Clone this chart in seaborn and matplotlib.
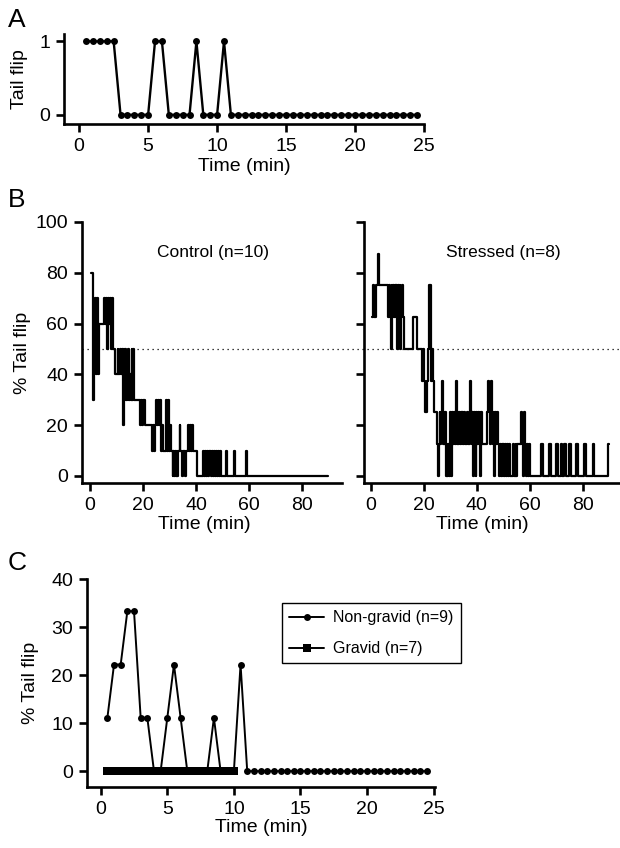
import matplotlib
matplotlib.use("Agg")
import matplotlib.pyplot as plt
import seaborn as sns
from matplotlib.lines import Line2D

# ---------------- Data ----------------
# Panel A: single animal, tail flip (0/1) per 0.5-min bin
a_time = [0.5, 1.0, 1.5, 2.0, 2.5, 3.0, 3.5, 4.0, 4.5, 5.0, 5.5, 6.0, 6.5, 7.0, 7.5,
          8.0, 8.5, 9.0, 9.5, 10.0, 10.5, 11.0, 11.5, 12.0, 12.5, 13.0, 13.5, 14.0,
          14.5, 15.0, 15.5, 16.0, 16.5, 17.0, 17.5, 18.0, 18.5, 19.0, 19.5, 20.0,
          20.5, 21.0, 21.5, 22.0, 22.5, 23.0, 23.5, 24.0, 24.5]
a_flip = [1, 1, 1, 1, 1, 0, 0, 0, 0, 0, 1, 1, 0, 0, 0, 0, 1, 0, 0, 0, 1,
          0, 0, 0, 0, 0, 0, 0, 0, 0, 0, 0, 0, 0, 0, 0, 0, 0, 0, 0, 0, 0, 0, 0,
          0, 0, 0, 0, 0]

# Panel B: % tail flip step traces (change points: time in min, value in %)
ctrl_t = [0.5, 1.0, 1.5, 2.0, 2.4, 2.8, 3.2, 3.6, 5.3, 5.7, 6.0, 6.4, 6.8, 7.2, 7.6,
          8.0, 8.4, 8.8, 9.3, 10.4, 10.7, 11.3, 11.7, 12.1, 12.4, 12.7, 13.0, 13.3,
          13.6, 13.9, 14.2, 14.5, 14.8, 15.1, 15.4, 15.7, 16.0, 16.3, 16.6, 19.0,
          19.4, 19.8, 20.2, 20.6, 23.3, 23.7, 24.1, 24.5, 24.9, 25.3, 25.7, 26.1,
          26.5, 26.9, 27.3, 27.7, 28.6, 29.0, 29.4, 29.8, 30.2, 30.6, 31.2, 31.5,
          31.8, 32.1, 32.4, 32.7, 33.0, 33.3, 33.8, 34.1, 34.6, 35.0, 35.8, 36.2,
          37.0, 37.4, 37.8, 38.2, 38.6, 39.0, 40.3, 42.8, 43.1, 43.5, 43.9, 44.3,
          44.7, 45.1, 45.5, 45.9, 46.3, 46.7, 47.1, 47.5, 47.9, 48.3, 48.7, 49.1,
          49.5, 51.4, 51.8, 54.5, 54.9, 58.9, 59.3, 90.0]
ctrl_v = [80, 30, 60, 70, 40, 70, 40, 60, 70, 60, 70, 50, 70, 60, 70,
          50, 70, 50, 40, 50, 40, 50, 40, 50, 20, 50, 30, 50,
          30, 40, 30, 50, 30, 40, 30, 50, 30, 50, 30, 20,
          30, 20, 30, 20, 10, 20, 10, 20, 30, 20, 30, 20,
          30, 10, 20, 10, 30, 10, 30, 10, 20, 10, 0, 10,
          0, 10, 0, 10, 0, 10, 20, 10, 0, 10, 0, 10,
          20, 10, 20, 10, 20, 10, 0, 10, 0, 10, 0, 10,
          0, 10, 0, 10, 0, 10, 0, 10, 0, 10, 0, 10,
          0, 10, 0, 10, 0, 10, 0, 0]

str_t = [0.3, 0.8, 1.3, 1.8, 2.8, 3.2, 6.5, 6.9, 7.2, 7.5, 7.8, 8.1, 8.4, 8.7, 9.0,
         9.3, 9.6, 9.9, 10.2, 10.5, 10.8, 11.1, 11.4, 11.7, 12.1, 12.5, 16.0, 17.3,
         19.1, 19.6, 20.1, 20.6, 21.0, 21.6, 22.1, 22.5, 23.0, 23.5, 24.0, 24.8,
         25.3, 25.6, 25.9, 26.2, 26.5, 26.8, 27.1, 27.4, 27.7, 28.0, 28.3, 28.6,
         28.9, 29.2, 29.5, 29.8, 30.1, 30.4, 30.7, 31.0, 31.3, 31.6, 32.0, 32.4,
         32.7, 33.0, 33.3, 33.6, 33.9, 34.2, 34.5, 34.8, 35.2, 35.6, 36.4, 36.8,
         37.3, 37.7, 38.0, 38.3, 38.6, 38.9, 39.2, 39.5, 39.8, 40.1, 40.4, 40.7,
         41.0, 41.3, 41.6, 42.0, 43.8, 44.3, 44.6, 44.9, 45.3, 45.7, 46.0, 46.3,
         46.6, 46.9, 47.2, 47.6, 48.0, 48.5, 48.8, 49.1, 49.4, 49.7, 50.0, 50.3,
         50.7, 51.0, 51.4, 51.7, 52.2, 52.5, 53.8, 54.1, 54.6, 54.9, 55.2, 56.6,
         57.0, 57.5, 57.8, 58.2, 58.5, 58.8, 59.2, 59.6, 60.0, 64.2, 64.8, 67.3,
         67.9, 69.9, 70.5, 71.7, 72.3, 73.0, 73.6, 74.9, 75.5, 77.4, 78.0, 80.6,
         81.2, 83.7, 84.3, 89.6, 90.0]
str_v = [62.5, 75, 62.5, 75, 87.5, 75, 62.5, 75, 62.5, 50, 75, 62.5, 75, 62.5, 75,
         62.5, 75, 50, 75, 62.5, 75, 50, 62.5, 75, 62.5, 50, 62.5, 50,
         37.5, 50, 37.5, 25, 37.5, 50, 75, 37.5, 50, 37.5, 25, 12.5,
         0, 12.5, 25, 12.5, 25, 37.5, 12.5, 25, 12.5, 25, 0, 12.5,
         0, 12.5, 0, 25, 12.5, 0, 25, 12.5, 25, 12.5, 37.5, 12.5,
         25, 12.5, 25, 12.5, 25, 12.5, 25, 12.5, 25, 12.5, 25, 12.5,
         37.5, 25, 12.5, 25, 0, 25, 12.5, 0, 25, 12.5, 25, 12.5,
         25, 0, 25, 12.5, 25, 37.5, 25, 12.5, 37.5, 25, 12.5, 25,
         0, 25, 12.5, 25, 12.5, 0, 12.5, 0, 12.5, 0, 12.5, 0,
         12.5, 0, 12.5, 0, 12.5, 0, 12.5, 0, 12.5, 0, 12.5, 25,
         12.5, 0, 25, 12.5, 0, 12.5, 0, 12.5, 0, 12.5, 0, 12.5,
         0, 12.5, 0, 12.5, 0, 12.5, 0, 12.5, 0, 12.5, 0, 12.5,
         0, 12.5, 0, 12.5, 12.5]

# Panel C
ng_time = a_time
ng_pct = [11.1, 22.2, 22.2, 33.3, 33.3, 11.1, 11.1, 0, 0, 11.1, 22.2, 11.1, 0, 0, 0,
          0, 11.1, 0, 0, 0, 22.2, 0, 0, 0, 0, 0, 0, 0, 0, 0, 0, 0, 0, 0, 0, 0, 0,
          0, 0, 0, 0, 0, 0, 0, 0, 0, 0, 0, 0]
gr_time = [0.5, 0.75, 1.0, 1.25, 1.5, 1.75, 2.0, 2.25, 2.5, 2.75, 3.0, 3.25, 3.5,
           3.75, 4.0, 4.25, 4.5, 4.75, 5.0, 5.25, 5.5, 5.75, 6.0, 6.25, 6.5, 6.75,
           7.0, 7.25, 7.5, 7.75, 8.0, 8.25, 8.5, 8.75, 9.0, 9.25, 9.5, 9.75, 10.0]
gr_pct = [0] * len(gr_time)

ctrl_label = "Control (n=10)"
str_label = "Stressed (n=8)"
ng_label = "Non-gravid (n=9)"
gr_label = "Gravid (n=7)"

# ---------------- Style ----------------
sns.set_theme(style="ticks")
plt.rcParams['font.family'] = ['Liberation Sans', 'DejaVu Sans']
plt.rcParams.update({
    'axes.linewidth': 1.9,
    'xtick.major.width': 1.9, 'ytick.major.width': 1.9,
    'xtick.major.size': 6, 'ytick.major.size': 6,
    'xtick.labelsize': 14, 'ytick.labelsize': 14,
    'axes.labelsize': 14,
    'axes.edgecolor': 'black',
    'xtick.color': 'black', 'ytick.color': 'black',
    'text.color': 'black', 'axes.labelcolor': 'black',
})

W, H = 620, 848
fig = plt.figure(figsize=(W / 100, H / 100), dpi=100)


def axes_px(x0, x1, y_top, y_bot):
    return fig.add_axes([x0 / W, 1 - y_bot / H, (x1 - x0) / W, (y_bot - y_top) / H])


def style(ax):
    sns.despine(ax=ax)
    ax.tick_params(direction='out', pad=4)


# ---------------- Panel A ----------------
axA = axes_px(64, 424, 34, 124)
sns.lineplot(x=a_time, y=a_flip, ax=axA, color='black', lw=1.7, marker='o',
             markersize=5, markeredgewidth=0, estimator=None, sort=False)
axA.set_xlim(-1.1, 25)
axA.set_ylim(-0.125, 1.1)
axA.set_xticks([0, 5, 10, 15, 20, 25])
axA.set_yticks([0, 1])
axA.set_xlabel("Time (min)", labelpad=2)
axA.set_ylabel("Tail flip", labelpad=8)
style(axA)

# ---------------- Panel B ----------------
axL = axes_px(82, 342, 222, 483)
axR = axes_px(364, 620, 222, 483)
sns.lineplot(x=ctrl_t, y=ctrl_v, ax=axL, color='black', lw=1.6,
             drawstyle='steps-post', estimator=None, sort=False)
sns.lineplot(x=str_t, y=str_v, ax=axR, color='black', lw=1.6,
             drawstyle='steps-post', estimator=None, sort=False)
for ax in (axL, axR):
    ax.set_ylim(-2.8, 100)
    ax.set_yticks([0, 20, 40, 60, 80, 100])
    ax.set_xticks([0, 20, 40, 60, 80])
    ax.set_xlabel("Time (min)")
    style(ax)
axL.set_xlim(-3.0, 95.1)
axR.set_xlim(-2.6, 94)
axL.xaxis.set_label_coords((204 - 82) / 260, -0.125)
axR.xaxis.set_label_coords((482 - 364) / 256, -0.125)
axL.set_ylabel("% Tail flip", labelpad=3)
axR.set_ylabel("")
axR.tick_params(axis='y', labelleft=False)
fig.text(213 / W, 1 - 252 / H, ctrl_label, ha='center', va='center', fontsize=12.5)
fig.text(503 / W, 1 - 252 / H, str_label, ha='center', va='center', fontsize=12.5)

# dotted 50% reference line spanning both panels
fig.canvas.draw()
y50 = fig.transFigure.inverted().transform(axL.transData.transform((0, 50)))[1]
fig.add_artist(Line2D([82 / W, 1.0], [y50, y50], transform=fig.transFigure,
                      color='black', lw=0.9, ls=(0, (1, 3))))

# ---------------- Panel C ----------------
axC = axes_px(87, 435, 579, 787)
sns.lineplot(x=ng_time, y=ng_pct, ax=axC, color='black', lw=1.4, marker='o',
             markersize=5, markeredgewidth=0, estimator=None, sort=False,
             label=ng_label)
sns.lineplot(x=gr_time, y=gr_pct, ax=axC, color='black', lw=1.4, marker='s',
             markersize=6, markeredgewidth=0, estimator=None, sort=False,
             label=gr_label)
axC.set_xlim(-1.03, 25.1)
axC.set_ylim(-3.3, 40)
axC.set_xticks([0, 5, 10, 15, 20, 25])
axC.set_yticks([0, 10, 20, 30, 40])
axC.set_xlabel("Time (min)", labelpad=1)
axC.set_ylabel("% Tail flip", labelpad=9)
style(axC)
leg = axC.legend(loc='upper left', bbox_to_anchor=(282 / W, 1 - 603 / H),
                 bbox_transform=fig.transFigure, frameon=True, fancybox=False,
                 edgecolor='black', framealpha=1, fontsize=11.5,
                 handlelength=2.2, borderpad=0.45, labelspacing=1.0,
                 handletextpad=0.55, borderaxespad=0)
leg.get_frame().set_linewidth(1.0)

# panel letters
fig.text(8 / W, 1 - 20 / H, "A", fontsize=19, va='center', ha='left')
fig.text(8 / W, 1 - 200 / H, "B", fontsize=19, va='center', ha='left')
fig.text(8 / W, 1 - 563 / H, "C", fontsize=19, va='center', ha='left')

fig.savefig("out.png", dpi=100)
